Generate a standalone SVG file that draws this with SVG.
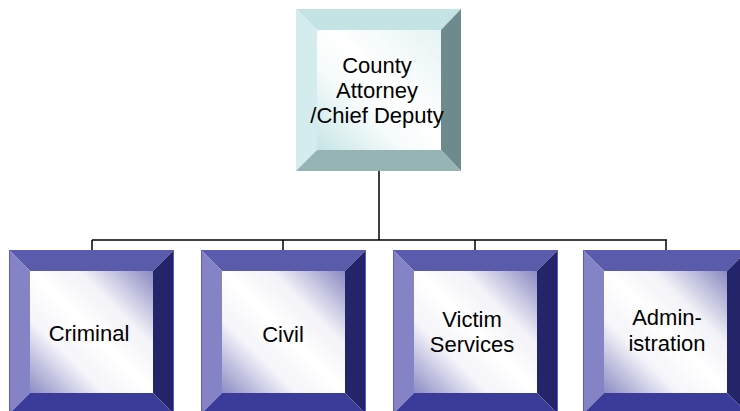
<svg xmlns="http://www.w3.org/2000/svg" width="740" height="411" viewBox="0 0 740 411">
<defs>
<linearGradient id="gb" x1="0" y1="1" x2="1" y2="0">
<stop offset="0" stop-color="#8c8cc4"/>
<stop offset="0.3" stop-color="#f4f4fa"/>
<stop offset="0.5" stop-color="#ffffff"/>
<stop offset="0.7" stop-color="#f2f2f8"/>
<stop offset="1" stop-color="#8a8ac2"/>
</linearGradient>
<linearGradient id="gc" x1="0" y1="1" x2="1" y2="0">
<stop offset="0" stop-color="#c6e4e6"/>
<stop offset="0.35" stop-color="#f6fbfb"/>
<stop offset="0.55" stop-color="#ffffff"/>
<stop offset="1" stop-color="#e6f3f4"/>
</linearGradient>
</defs>
<style>
text{font-family:"Liberation Sans",Arial,sans-serif;font-size:22px;fill:#000;text-anchor:middle}
.conn{stroke:#000;stroke-width:1.5;fill:none}
.bt{fill:#5b5bab}.bl{fill:#8383c6}.br{fill:#24246a}.bb{fill:#3b3b99}
.ct{fill:#c4e4e4}.cl{fill:#d4ecee}.cr{fill:#6e8a8c}.cb{fill:#97b4b5}
</style>
<rect width="740" height="411" fill="#fff"/>
<g id="connectors">
<path class="conn" d="M379 171V240M92 240H667M92 240V250M283 240V250M475 240V250M666 240V250"/>
</g>
<g id="county-attorney">
<polygon class="ct" points="296,9 461,9 441,30 317,30"/>
<polygon class="cl" points="296,9 317,30 317,150 296,171"/>
<polygon class="cr" points="461,9 461,171 441,150 441,30"/>
<polygon class="cb" points="296,171 317,150 441,150 461,171"/>
<rect x="317" y="30" width="124" height="120" fill="url(#gc)"/>
<text x="377" y="73">County</text>
<text x="377" y="98">Attorney</text>
<text x="377" y="123">/Chief Deputy</text>
</g>
<g id="criminal" transform="translate(9,250)">
<polygon class="bt" points="0,0 165,0 144,21 21,21"/>
<polygon class="bl" points="0,0 21,21 21,143 0,164"/>
<polygon class="br" points="165,0 165,164 144,143 144,21"/>
<polygon class="bb" points="0,164 21,143 144,143 165,164"/>
<rect x="21" y="21" width="123" height="122" fill="url(#gb)"/>
<rect x="0.5" y="0.5" width="164" height="163" fill="none" stroke="#5a5ac8" stroke-width="1"/>
<text x="80" y="91">Criminal</text>
</g>
<g id="civil" transform="translate(201,250)">
<polygon class="bt" points="0,0 165,0 144,21 21,21"/>
<polygon class="bl" points="0,0 21,21 21,143 0,164"/>
<polygon class="br" points="165,0 165,164 144,143 144,21"/>
<polygon class="bb" points="0,164 21,143 144,143 165,164"/>
<rect x="21" y="21" width="123" height="122" fill="url(#gb)"/>
<rect x="0.5" y="0.5" width="164" height="163" fill="none" stroke="#5a5ac8" stroke-width="1"/>
<text x="82" y="92">Civil</text>
</g>
<g id="victim-services" transform="translate(393,250)">
<polygon class="bt" points="0,0 165,0 144,21 21,21"/>
<polygon class="bl" points="0,0 21,21 21,143 0,164"/>
<polygon class="br" points="165,0 165,164 144,143 144,21"/>
<polygon class="bb" points="0,164 21,143 144,143 165,164"/>
<rect x="21" y="21" width="123" height="122" fill="url(#gb)"/>
<rect x="0.5" y="0.5" width="164" height="163" fill="none" stroke="#5a5ac8" stroke-width="1"/>
<text x="79" y="77">Victim</text>
<text x="79" y="102">Services</text>
</g>
<g id="administration" transform="translate(583,250)">
<polygon class="bt" points="0,0 165,0 144,21 21,21"/>
<polygon class="bl" points="0,0 21,21 21,143 0,164"/>
<polygon class="br" points="165,0 165,164 144,143 144,21"/>
<polygon class="bb" points="0,164 21,143 144,143 165,164"/>
<rect x="21" y="21" width="123" height="122" fill="url(#gb)"/>
<rect x="0.5" y="0.5" width="164" height="163" fill="none" stroke="#5a5ac8" stroke-width="1"/>
<text x="84" y="75">Admin-</text>
<text x="84" y="101">istration</text>
</g>
</svg>
